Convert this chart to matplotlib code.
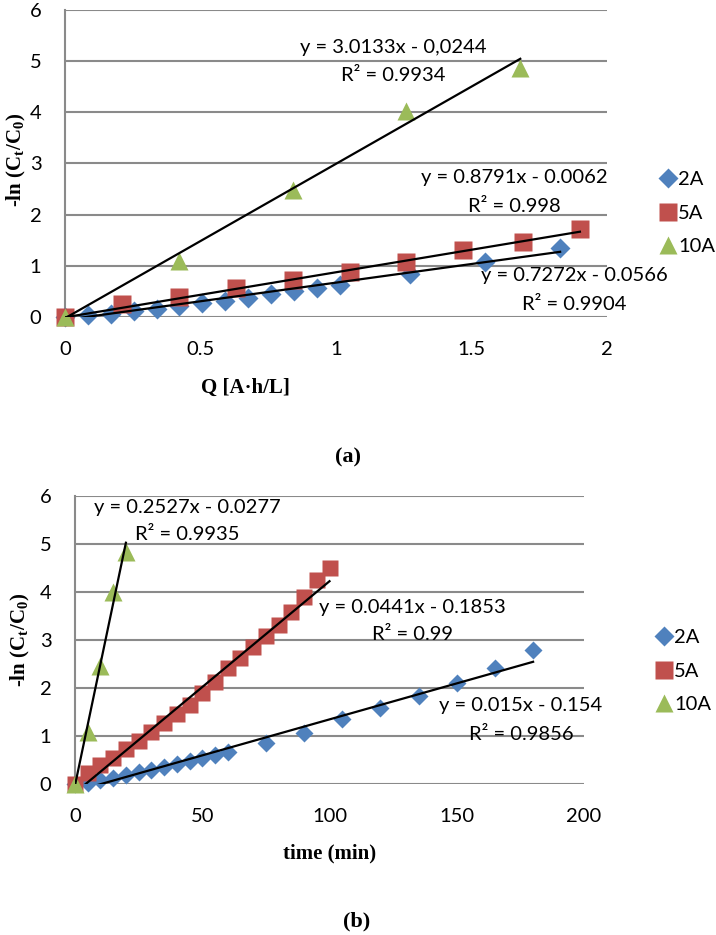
import numpy as np
import matplotlib
matplotlib.use('Agg')
import matplotlib.pyplot as plt
from matplotlib.lines import Line2D

plt.rcParams['font.family'] = ['Lato', 'DejaVu Sans']
plt.rcParams['mathtext.fontset'] = 'custom'
plt.rcParams['mathtext.rm'] = 'Liberation Serif'
plt.rcParams['mathtext.bf'] = 'Liberation Serif:bold'

# series labels and colours (Excel 2007 defaults)
series = ['2A', '5A', '10A']
colors = ['#4F81BD', '#C0504D', '#9BBB59']
markers = ['D', 's', '^']

# (a) -ln(Ct/C0) vs charge Q [A.h/L]
q_2a = [0, 0.0845, 0.169, 0.253, 0.338, 0.422, 0.507, 0.591, 0.676, 0.760, 0.845, 0.929, 1.014, 1.273, 1.55, 1.827]
y_2a_a = [0, 0.03, 0.06, 0.11, 0.16, 0.21, 0.27, 0.32, 0.38, 0.44, 0.50, 0.56, 0.63, 0.84, 1.08, 1.35]
q_5a = [0, 0.21, 0.42, 0.63, 0.84, 1.05, 1.26, 1.47, 1.69, 1.90]
y_5a_a = [0, 0.25, 0.40, 0.57, 0.72, 0.88, 1.08, 1.30, 1.47, 1.72]
q_10a = [0, 0.42, 0.84, 1.26, 1.68]
y_10a_a = [0, 1.10, 2.48, 4.01, 4.86]
fits_a = [(0.7272, -0.0566), (0.8791, -0.0062), (3.0133, -0.0244)]
eq_a = [('y = 0.7272x - 0.0566', 'R² = 0.9904'),
        ('y = 0.8791x - 0.0062', 'R² = 0.998'),
        ('y = 3.0133x - 0,0244', 'R² = 0.9934')]

# (b) -ln(Ct/C0) vs time (min)
t_2a = [0, 5, 10, 15, 20, 25, 30, 35, 40, 45, 50, 55, 60, 75, 90, 105, 120, 135, 150, 165, 180]
y_2a_b = [0, 0.03, 0.08, 0.13, 0.19, 0.25, 0.30, 0.36, 0.42, 0.48, 0.54, 0.60, 0.66,
          0.85, 1.07, 1.35, 1.58, 1.83, 2.11, 2.42, 2.80]
t_5a = [0, 5, 10, 15, 20, 25, 30, 35, 40, 45, 50, 55, 60, 65, 70, 75, 80, 85, 90, 95, 100]
y_5a_b = [0, 0.22, 0.40, 0.55, 0.72, 0.90, 1.08, 1.27, 1.45, 1.65, 1.90, 2.12, 2.41,
          2.62, 2.86, 3.08, 3.31, 3.59, 3.90, 4.26, 4.50]
t_10a = [0, 5, 10, 15, 20]
y_10a_b = [0, 1.08, 2.46, 3.99, 4.84]
fits_b = [(0.015, -0.154), (0.0441, -0.1853), (0.2527, -0.0277)]
eq_b = [('y = 0.015x - 0.154', 'R² = 0.9856'),
        ('y = 0.0441x - 0.1853', 'R² = 0.99'),
        ('y = 0.2527x - 0.0277', 'R² = 0.9935')]

W, H = 716, 935
fig = plt.figure(figsize=(W / 100, H / 100), dpi=100)


def px_ax(l, t, r, b):
    return fig.add_axes([l / W, 1 - b / H, (r - l) / W, (b - t) / H])


def style(ax, xmax, xstep):
    ax.set_ylim(0, 6)
    ax.set_xlim(0, xmax)
    ax.set_yticks(range(7))
    ax.set_xticks(np.arange(0, xmax + xstep / 2, xstep))
    ax.grid(axis='y', color='#8a8a8a', lw=1.5)
    ax.set_axisbelow(True)
    for s in ['top', 'right', 'bottom']:
        ax.spines[s].set_visible(False)
    ax.spines['left'].set_color('#8a8a8a')
    ax.spines['left'].set_linewidth(1.5)
    ax.tick_params(length=0, labelsize=14.5, pad=17)


def draw(ax, xs, ys, fits, sizes):
    for i in range(3):
        x = np.array(xs[i])
        m, c = fits[i]
        ax.plot([x.min(), x.max()], [m * x.min() + c, m * x.max() + c], color='black', lw=1.6, zorder=4)
        ax.plot(x, ys[i], ls='none', marker=markers[i], color=colors[i], ms=sizes[i],
                mec='none', clip_on=False, zorder=3)


# top chart
ax1 = px_ax(65, 9.5, 607, 317)
style(ax1, 2, 0.5)
ax1.set_xticklabels(['0', '0.5', '1', '1.5', '2'])
draw(ax1, [q_2a, q_5a, q_10a], [y_2a_a, y_5a_a, y_10a_a], fits_a, [10, 12.5, 13])
eq_pos_a = [(574, 276), (514, 178), (393, 47)]
for (e, r), (x, y) in zip(eq_a, eq_pos_a):
    fig.text(x / W, 1 - y / H, e, ha='center', va='center', fontsize=14.5)
    fig.text(x / W, 1 - (y + 28.5) / H, r, ha='center', va='center', fontsize=14.5)

# bottom chart
ax2 = px_ax(75, 496, 584, 784)
style(ax2, 200, 50)
draw(ax2, [t_2a, t_5a, t_10a], [y_2a_b, y_5a_b, y_10a_b], fits_b, [9.5, 11, 12.5])
eq_pos_b = [(521, 706), (412, 607), (187, 507)]
for (e, r), (x, y) in zip(eq_b, eq_pos_b):
    fig.text(x / W, 1 - y / H, e, ha='center', va='center', fontsize=14.5)
    fig.text(x / W, 1 - (y + 28) / H, r, ha='center', va='center', fontsize=14.5)

# legends
handles = [Line2D([], [], ls='none', marker=markers[i], color=colors[i], mec='none',
                  ms=[10, 12.5, 13][i]) for i in range(3)]
for ax, x, y in [(ax1, 650, 213), (ax2, 646, 671)]:
    ax.legend(handles, series, loc='center left', bbox_to_anchor=(x / W, 1 - y / H),
              bbox_transform=fig.transFigure, frameon=False, fontsize=14.5,
              handlelength=0.8, handletextpad=0.1, labelspacing=0.8, borderpad=0)

# axis labels and panel letters
serif = 'Liberation Serif'
ylab = r'-ln (C$_{\mathbf{t}}$/C$_{\mathbf{0}}$)'
fig.text(16 / W, 1 - 160 / H, ylab, rotation=90, ha='center', va='center',
         fontsize=15, fontweight='bold', family=serif)
fig.text(20 / W, 1 - 640 / H, ylab, rotation=90, ha='center', va='center',
         fontsize=15, fontweight='bold', family=serif)
fig.text(245 / W, 1 - 388 / H, 'Q [A·h/L]', ha='center', va='center',
         fontsize=15, fontweight='bold', family=serif)
fig.text(330 / W, 1 - 853 / H, 'time (min)', ha='center', va='center',
         fontsize=15, fontweight='bold', family=serif)
fig.text(348 / W, 1 - 457 / H, '(a)', ha='center', va='center',
         fontsize=16, fontweight='bold', family=serif)
fig.text(357 / W, 1 - 921 / H, '(b)', ha='center', va='center',
         fontsize=16, fontweight='bold', family=serif)

fig.savefig('out.png', dpi=100)
